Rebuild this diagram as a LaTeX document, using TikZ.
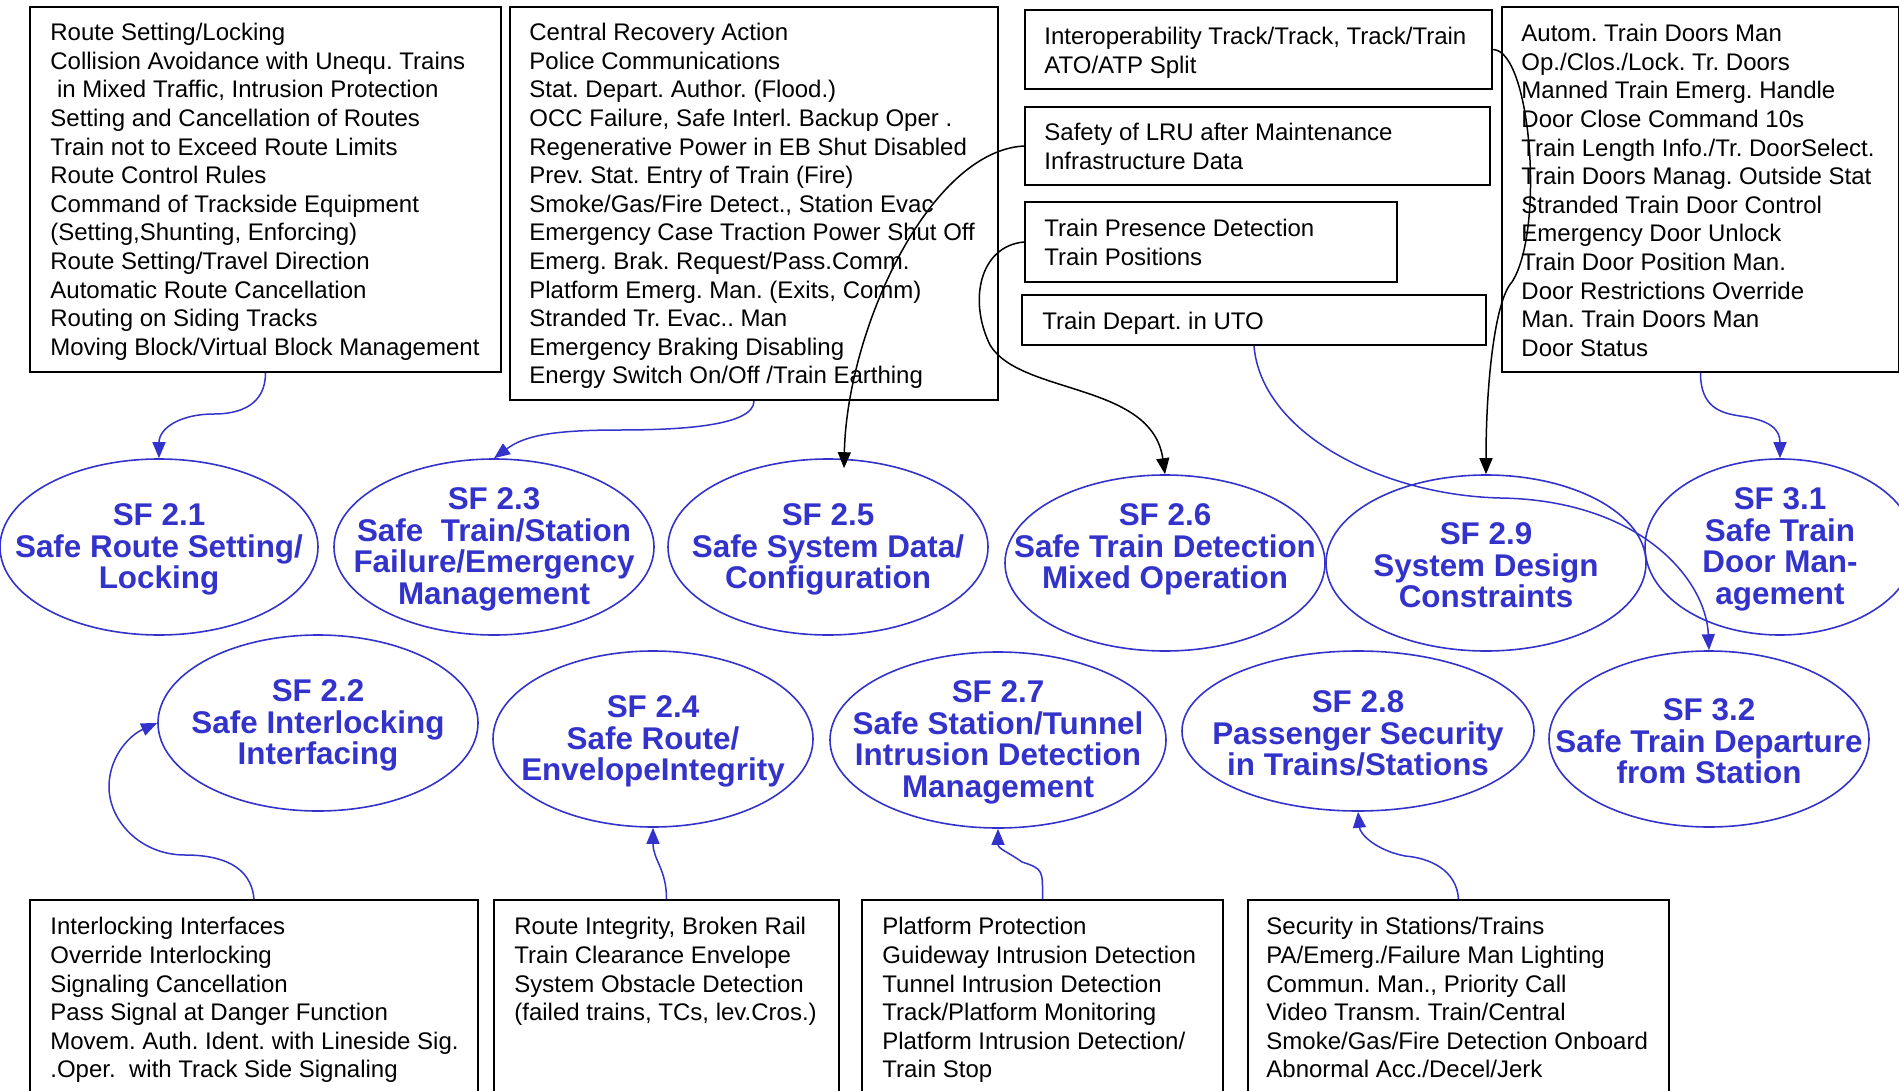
\documentclass[tikz,border=0pt]{standalone}
\usepackage{fontspec}
\setmainfont{Liberation Sans}
\usetikzlibrary{arrows.meta,positioning,shapes.geometric}
\usepackage{xcolor}
\definecolor{SFBlue}{HTML}{3333CC}
\frenchspacing
\tikzset{
 listframe/.style={draw=black, line width=1pt, inner sep=0pt, anchor=north west},
 listtext/.style={align=left, inner sep=0pt, font=\fontsize{12pt}{14.3pt}\selectfont},
 sfellipse/.style={ellipse, draw=SFBlue, line width=0.8pt, inner sep=0pt, minimum width=160pt, minimum height=88pt},
 sflabel/.style={align=center, inner sep=0pt, yshift=-1.2pt, text=SFBlue, font=\fontsize{15.7pt}{15.7pt}\selectfont\bfseries},
 arrow/.style={-{Triangle[length=8pt,width=6.5pt]}, line width=0.75pt, draw=SFBlue},
 blackarrow/.style={arrow, draw=black}
}
\begin{document}
\begin{tikzpicture}[x=0.5pt,y=-0.5pt]
\useasboundingbox (0,0) rectangle (1899,1091);
\fill[white] (0,0) rectangle (1899,1091);

% requirement boxes, top row
\node[listframe, minimum width=235.5pt, minimum height=182.5pt] (boxA) at (29,6) {};
\node[listtext, below right=8.5pt and 10.5pt of boxA.north west] (listA) {Route Setting/Locking\\
Collision Avoidance with Unequ. Trains\\
\hspace*{3.3pt}in Mixed Traffic, Intrusion Protection\\
Setting and Cancellation of Routes\\
Train not to Exceed Route Limits\\
Route Control Rules\\
Command of Trackside Equipment\\
(Setting,Shunting, Enforcing)\\
Route Setting/Travel Direction\\
Automatic Route Cancellation\\
Routing on Siding Tracks\\
Moving Block/Virtual Block Management};

\node[listframe, minimum width=244pt, minimum height=196.5pt] (boxB) at (509,6) {};
\node[listtext, below right=8.5pt and 10pt of boxB.north west] (listB) {Central Recovery Action\\
Police Communications\\
Stat. Depart. Author. (Flood.)\\
OCC Failure, Safe Interl. Backup Oper .\\
Regenerative Power in EB Shut Disabled\\
Prev. Stat. Entry of Train (Fire)\\
Smoke/Gas/Fire Detect., Station Evac\\
Emergency Case Traction Power Shut Off\\
Emerg. Brak. Request/Pass.Comm.\\
Platform Emerg. Man. (Exits, Comm)\\
Stranded Tr. Evac.. Man\\
Emergency Braking Disabling\\
Energy Switch On/Off /Train Earthing};

\node[listframe, minimum width=233.5pt, minimum height=39.5pt] (boxC) at (1024,9) {};
\node[listtext, below right=9pt and 10pt of boxC.north west] (listC) {Interoperability Track/Track, Track/Train\\
ATO/ATP Split};

\node[listframe, minimum width=232.5pt, minimum height=39pt] (boxD) at (1024,106) {};
\node[listtext, below right=8.5pt and 10pt of boxD.north west] (listD) {Safety of LRU after Maintenance\\
Infrastructure Data};

\node[listframe, minimum width=186pt, minimum height=40pt] (boxE) at (1024,201) {};
\node[listtext, below right=9pt and 10pt of boxE.north west] (listE) {Train Presence Detection\\
Train Positions};

\node[listframe, minimum width=232pt, minimum height=25pt] (boxF) at (1021,294) {};
\node[listtext, below right=9pt and 10.5pt of boxF.north west] (listF) {Train Depart. in UTO};

\node[listframe, minimum width=198.5pt, minimum height=182.5pt] (boxG) at (1501,6) {};
\node[listtext, below right=9pt and 10pt of boxG.north west] (listG) {Autom. Train Doors Man\\
Op./Clos./Lock. Tr. Doors\\
Manned Train Emerg. Handle\\
Door Close Command 10s\\
Train Length Info./Tr. DoorSelect.\\
Train Doors Manag. Outside Stat\\
Stranded Train Door Control\\
Emergency Door Unlock\\
Train Door Position Man.\\
Door Restrictions Override\\
Man. Train Doors Man\\
Door Status};

% safety functions
\node[sfellipse, minimum width=159pt] (sf21) at (159,547) {};
\node[sflabel] (sf21txt) at (sf21) {SF 2.1\\Safe Route Setting/\\Locking};
\node[sfellipse] (sf23) at (494,547) {};
\node[sflabel] (sf23txt) at (sf23) {SF 2.3\\Safe\ \ Train/Station\\Failure/Emergency\\Management};
\node[sfellipse] (sf25) at (828,547) {};
\node[sflabel] (sf25txt) at (sf25) {SF 2.5\\Safe System Data/\\Configuration};
\node[sfellipse] (sf26) at (1165,563) {};
\node[sflabel] (sf26txt) at (1165,547) {SF 2.6\\Safe Train Detection\\Mixed Operation};
\node[sfellipse] (sf29) at (1486,563) {};
\node[sflabel] (sf29txt) at (sf29) {SF 2.9\\System Design\\Constraints};
\node[sfellipse, minimum width=135pt] (sf31) at (1780,547) {};
\node[sflabel] (sf31txt) at (sf31) {SF 3.1\\Safe Train\\Door Man-\\agement};

\node[sfellipse] (sf22) at (318,723) {};
\node[sflabel] (sf22txt) at (sf22) {SF 2.2\\Safe Interlocking\\Interfacing};
\node[sfellipse] (sf24) at (653,739) {};
\node[sflabel] (sf24txt) at (sf24) {SF 2.4\\Safe Route/\\EnvelopeIntegrity};
\node[sfellipse, minimum width=168pt] (sf27) at (998,740) {};
\node[sflabel] (sf27txt) at (sf27) {SF 2.7\\Safe Station/Tunnel\\Intrusion Detection\\Management};
\node[sfellipse, minimum width=176pt, minimum height=80pt] (sf28) at (1358,731) {};
\node[sflabel] (sf28txt) at (sf28) {SF 2.8\\Passenger Security\\in Trains/Stations};
\node[sfellipse] (sf32) at (1709,739) {};
\node[sflabel] (sf32txt) at (sf32) {SF 3.2\\Safe Train Departure\\from Station};

% requirement boxes, bottom row
\node[listframe, minimum width=224pt, minimum height=100pt] (box1) at (29,899) {};
\node[listtext, below right=9pt and 10.5pt of box1.north west] (list1) {Interlocking Interfaces\\
Override Interlocking\\
Signaling Cancellation\\
Pass Signal at Danger Function\\
Movem. Auth. Ident. with Lineside Sig.\\
.Oper.\ \ with Track Side Signaling};

\node[listframe, minimum width=172.5pt, minimum height=100pt] (box2) at (493,899) {};
\node[listtext, below right=9pt and 10.5pt of box2.north west] (list2) {Route Integrity, Broken Rail\\
Train Clearance Envelope\\
System Obstacle Detection\\
(failed trains, TCs, lev.Cros.)};

\node[listframe, minimum width=180.5pt, minimum height=100pt] (box3) at (861,899) {};
\node[listtext, below right=9pt and 10.5pt of box3.north west] (list3) {Platform Protection\\
Guideway Intrusion Detection\\
Tunnel Intrusion Detection\\
Track/Platform Monitoring\\
Platform Intrusion Detection/\\
Train Stop};

\node[listframe, minimum width=210.5pt, minimum height=100pt] (box4) at (1247,899) {};
\node[listtext, below right=9pt and 9.5pt of box4.north west] (list4) {Security in Stations/Trains\\
PA/Emerg./Failure Man Lighting\\
Commun. Man., Priority Call\\
Video Transm. Train/Central\\
Smoke/Gas/Fire Detection Onboard\\
Abnormal Acc./Decel/Jerk};

% links
\draw[arrow] (boxA.south) .. controls +(0,32) and +(26,0) .. (214,414) .. controls +(-34,0) and +(0,-30) .. (sf21.north);
\draw[arrow] (boxB.south) .. controls +(0,25) and +(60,0) .. (620,430) .. controls +(-70,0) and +(30,-22) .. (sf23.north);
\draw[blackarrow] (boxD.west) .. controls +(-94,5) and +(3,-140) .. ([xshift=8pt,yshift=-5pt]sf25.north);
\draw[blackarrow] (boxE.west) .. controls +(-44,4) and +(-22,-45) .. (990,345) .. controls +(30,50) and +(-13,-92) .. (sf26.north);
\draw[blackarrow] (boxC.east) .. controls +(38,1) and +(33,-52) .. (1512,282) .. controls +(-17,18) and +(0,-92) .. (sf29.north);
\draw[arrow] (boxF.south) .. controls +(7,86) and +(-120,-3) .. (1500,498) .. controls +(140,2) and +(-3,-71) .. (sf32.north);
\draw[arrow] (boxG.south) .. controls +(0,34) and +(-20,-3) .. (1740,416) .. controls +(30,4) and +(0,-29) .. (sf31.north);
\draw[arrow] (box1.north) .. controls +(-3,-34) and +(35,0) .. (185,855) .. controls +(-45,0) and +(-1,35) .. (109,785) .. controls +(1,-30) and +(-27,12) .. (sf22.west);
\draw[arrow] (box2.north) .. controls +(0,-30) and +(0,32) .. (sf24.south);
\draw[arrow] (box3.north) .. controls +(0,-28) and +(22,7) .. (1022,862) .. controls +(-14,-10) and +(0,20) .. (sf27.south);
\draw[arrow] (box4.north) .. controls +(-2,-29) and +(25,2) .. (1405,856) .. controls +(-30,-6) and +(2,22) .. (sf28.south);
\end{tikzpicture}
\end{document}
